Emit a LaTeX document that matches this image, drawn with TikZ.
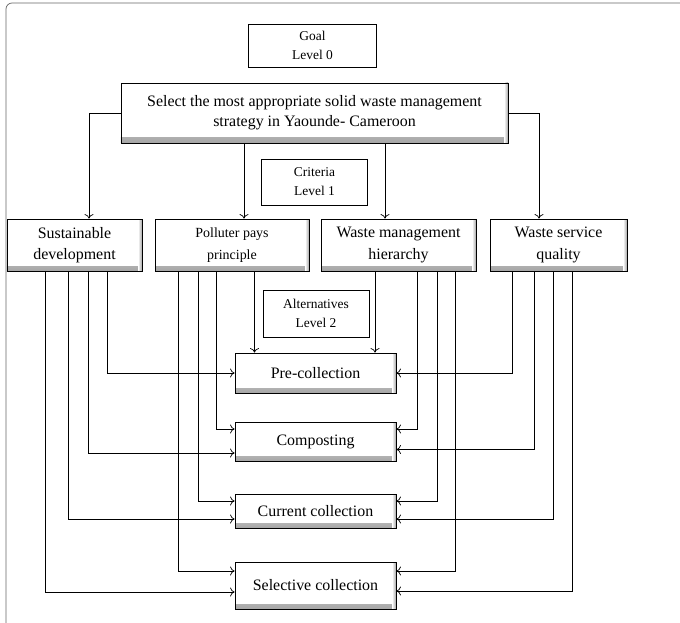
\documentclass[tikz,border=0pt]{standalone}
\usepackage{fontspec}
\setmainfont{Liberation Serif}
\usetikzlibrary{arrows,arrows.meta,positioning}

\begin{document}
\begin{tikzpicture}[->, >={To[length=4.5bp,width=9bp]}, x=1bp, y=-1bp, line width=0.7bp]
\tikzstyle{level}=[draw, fill=white, align=center, inner sep=0pt, font=\fontsize{13.5}{19}\selectfont]
\tikzstyle{crit}=[draw, line width=0.9bp, fill=white, align=center, inner sep=0pt, minimum height=52bp, font=\fontsize{16}{21.5}\selectfont,
  path picture={
    \shade[top color=white, bottom color=black!35] ([yshift=5bp]path picture bounding box.south west) rectangle (path picture bounding box.south east);
    \shade[left color=white, right color=black!35] ([xshift=-4bp]path picture bounding box.south east) rectangle (path picture bounding box.north east);
  }]
\tikzstyle{alt}=[crit, minimum width=161bp]
\useasboundingbox (0,0) rectangle (680,623);
\draw[-, gray!80!black, rounded corners=6bp] (6,623) -- (6,3) -- (680,3);

% levels
\node[level, minimum width=128bp, minimum height=43bp] (G) at (312.5,45.5) {Goal\\Level 0};
\node[level, minimum width=106bp, minimum height=46bp] (C) at (314.5,182) {Criteria\\Level 1};
\node[level, minimum width=106bp, minimum height=47bp] (A) at (316,313.5) {Alternatives\\Level 2};

% goal
\node[crit, minimum width=387bp, minimum height=60bp, font=\fontsize{16}{20}\selectfont] (M) at (314.5,113)
  {Select the most appropriate solid waste management\\strategy in Yaounde- Cameroon};

% criteria
\node[crit, minimum width=135bp] (SD) at (74.5,245) {Sustainable\\development};
\node[crit, minimum width=154bp, font=\fontsize{14}{21.5}\selectfont] (PP) at (232,245) {Polluter pays\\principle};
\node[crit, minimum width=155bp] (WM) at (398.5,245) {Waste management\\hierarchy};
\node[crit, minimum width=137bp] (WS) at (558.5,245) {Waste service\\quality};

% alternatives
\node[alt, minimum height=40bp] (PC) at (315.5,373) {Pre-collection};
\node[alt, minimum height=39bp] (CO) at (315.5,441.5) {Composting};
\node[alt, minimum height=34bp] (CC) at (315.5,511) {Current collection};
\node[alt, minimum height=47bp] (SC) at (315.5,585.5) {Selective collection};

% goal -> criteria
\draw (M.west) -| ([xshift=14.5bp]SD.north);
\draw ([xshift=12bp]PP.north |- M.south) -- ([xshift=12bp]PP.north);
\draw ([xshift=-13.5bp]WM.north |- M.south) -- ([xshift=-13.5bp]WM.north);
\draw (M.east) -| ([xshift=-19.5bp]WS.north);

% sustainable development
\draw ([xshift=33bp]SD.south) |- (PC.west);
\draw ([xshift=14bp]SD.south) |- ([yshift=-11.5bp]CO.west);
\draw ([xshift=-6.5bp]SD.south) |- ([yshift=-8bp]CC.west);
\draw ([xshift=-29bp]SD.south) |- ([yshift=-6.5bp]SC.west);

% polluter pays principle
\draw ([xshift=22.5bp]PP.south) -- ([xshift=22.5bp]PP.south |- PC.north);
\draw ([xshift=-16bp]PP.south) |- ([yshift=12.5bp]CO.west);
\draw ([xshift=-34bp]PP.south) |- ([yshift=10bp]CC.west);
\draw ([xshift=-54bp]PP.south) |- ([yshift=14.5bp]SC.west);

% waste management hierarchy
\draw ([xshift=-23.5bp]WM.south) -- ([xshift=-23.5bp]WM.south |- PC.north);
\draw ([xshift=18.5bp]WM.south) |- ([yshift=12.5bp]CO.east);
\draw ([xshift=38.5bp]WM.south) |- ([yshift=10bp]CC.east);
\draw ([xshift=56.5bp]WM.south) |- ([yshift=14.5bp]SC.east);

% waste service quality
\draw ([xshift=-46.5bp]WS.south) |- (PC.east);
\draw ([xshift=-24.5bp]WS.south) |- ([yshift=-8bp]CO.east);
\draw ([xshift=-5.5bp]WS.south) |- ([yshift=-8bp]CC.east);
\draw ([xshift=13.5bp]WS.south) |- ([yshift=-5.5bp]SC.east);
\end{tikzpicture}
\end{document}
